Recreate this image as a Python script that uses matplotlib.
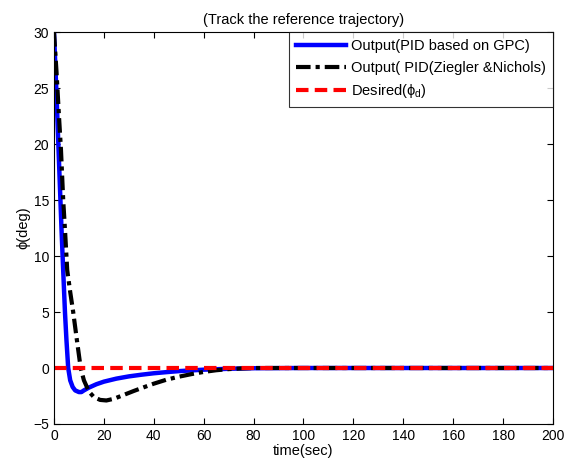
import numpy as np
import matplotlib
matplotlib.use('Agg')
import matplotlib.pyplot as plt

plt.rcParams['font.family'] = ['Liberation Sans', 'DejaVu Sans']
plt.rcParams['mathtext.fontset'] = 'custom'
plt.rcParams['mathtext.rm'] = 'Liberation Sans'
plt.rcParams['mathtext.it'] = 'Liberation Sans'

# PID based on GPC
t_gpc = [0, 1, 2, 3, 3.7, 4.4, 5, 5.7, 6.5, 7.5, 8.5, 10, 11, 12, 14, 17, 20,
         25, 30, 35, 40, 45, 50, 60, 70, 80, 100, 200]
y_gpc = [30, 24.5, 18.5, 12.5, 8.7, 5, 2.5, 0, -1.1, -1.7, -2.0, -2.15, -2.15,
         -2.0, -1.75, -1.45, -1.22, -0.95, -0.75, -0.6, -0.47, -0.37, -0.28,
         -0.15, -0.07, -0.02, 0, 0]

# PID Ziegler & Nichols
t_zn = [0, 1, 2, 2.8, 3.7, 4.5, 5.3, 6.5, 7.7, 9, 10.7, 12, 14, 16, 18.5, 21,
        24, 28, 32, 36, 40, 45, 50, 55, 60, 65, 70, 75, 80, 200]
y_zn = [30, 26.5, 22.5, 19.5, 15, 12, 8.75, 6.8, 5, 2.8, 0, -1.1, -2.1, -2.6,
        -2.85, -2.9, -2.75, -2.4, -2.05, -1.72, -1.4, -1.05, -0.78, -0.55,
        -0.35, -0.2, -0.1, -0.04, 0, 0]

# desired trajectory
t_des = [0, 200]
y_des = [0, 0]

fig = plt.figure(figsize=(5.64, 4.65), dpi=100)
ax = fig.add_axes([0.0957, 0.0882, 0.8848, 0.8428])

ax.plot(t_gpc, y_gpc, color='#0000ff', lw=3.2, label='Output(PID based on GPC)')
ax.plot(t_zn, y_zn, color='black', lw=3, linestyle=(0, (3.5, 1.2, 1, 1.2)),
        label='Output( PID(Ziegler &Nichols)')
ax.plot(t_des, y_des, color='red', lw=3, linestyle=(0, (3, 1.5)),
        label=r'Desired($\mathregular{\phi_d}$)')

ax.set_xlim(0, 200)
ax.set_ylim(-5, 30)
ax.set_xticks(np.arange(0, 201, 20))
ax.set_yticks(np.arange(-5, 31, 5))
ax.tick_params(direction='in', top=True, right=True, labelsize=10, length=4)
ax.set_xlabel('time(sec)', fontsize=10.5, labelpad=1)
ax.set_ylabel('\u03d5(deg)', fontsize=10.5, labelpad=2)
ax.set_title('(Track the reference trajectory)', fontsize=10.5, pad=6)

leg = ax.legend(loc='upper right', fontsize=10.5, frameon=True, fancybox=False,
                borderpad=0.5, labelspacing=0.5, handlelength=3.4,
                handletextpad=0.35, borderaxespad=0)
leg.get_frame().set_edgecolor('black')
leg.get_frame().set_linewidth(0.8)

fig.savefig('out.png', dpi=100)
